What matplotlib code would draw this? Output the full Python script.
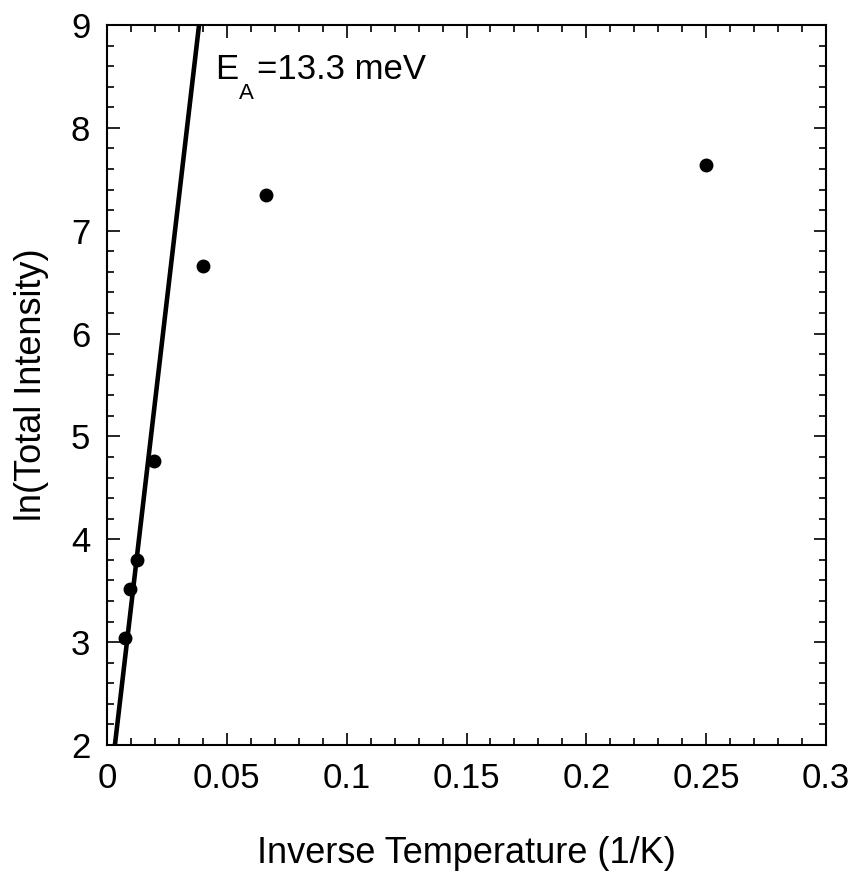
import matplotlib
matplotlib.use("Agg")
import matplotlib.pyplot as plt
import matplotlib.transforms as mtransforms
import numpy as np
from matplotlib.ticker import MultipleLocator

plt.rcParams['font.family'] = ['Liberation Sans', 'DejaVu Sans']

inv_T = [0.0075, 0.0096, 0.0125, 0.0196, 0.040, 0.0663, 0.25]
ln_I = [3.04, 3.52, 3.80, 4.76, 6.66, 7.35, 7.64]

fit_x = [0.0033, 0.0384]
fit_slope = 199.4
fit_intercept = 1.342

xticks = [0, 0.05, 0.1, 0.15, 0.2, 0.25, 0.3]
xticklabels = ['0', '0.05', '0.1', '0.15', '0.2', '0.25', '0.3']

fig = plt.figure(figsize=(8.56, 8.73), dpi=100)
ax = fig.add_axes([107/856, 1-745/873, (826-107)/856, (745-25)/873])

fx = np.array(fit_x)
ax.plot(fx, fit_slope*fx + fit_intercept, color='black', lw=3.3, solid_capstyle='butt', zorder=2)
ax.plot(inv_T, ln_I, 'o', color='black', ms=9, zorder=3)

ax.set_xlim(0, 0.3)
ax.set_ylim(2, 9)
ax.set_xticks(xticks)
ax.set_xticklabels(xticklabels)
ax.xaxis.set_minor_locator(MultipleLocator(0.01))
ax.yaxis.set_major_locator(MultipleLocator(1))
ax.yaxis.set_minor_locator(MultipleLocator(0.2))
ax.tick_params(which='both', direction='in', top=True, right=True, width=1.2, labelsize=25)
ax.tick_params(which='major', length=9, pad=12)
ax.tick_params(which='minor', length=5)
for s in ax.spines.values():
    s.set_linewidth(1.5)

ax.set_xlabel('Inverse Temperature (1/K)', fontsize=26, labelpad=30)
ax.set_ylabel('ln(Total Intensity)', fontsize=26, labelpad=16)

# E_A label, built from pieces so the subscript sits low like the reference
x0, y0 = 0.0451, 8.475
ax.text(x0, y0, 'E', fontsize=25, va='baseline', ha='left')
t_sub = mtransforms.offset_copy(ax.transData, fig=fig, x=24, y=-20, units='dots')
ax.text(x0, y0, 'A', fontsize=16, va='baseline', ha='left', transform=t_sub)
t_rest = mtransforms.offset_copy(ax.transData, fig=fig, x=42, y=0, units='dots')
ax.text(x0, y0, '=13.3 meV', fontsize=25, va='baseline', ha='left', transform=t_rest)

fig.savefig('out.png', dpi=100)
